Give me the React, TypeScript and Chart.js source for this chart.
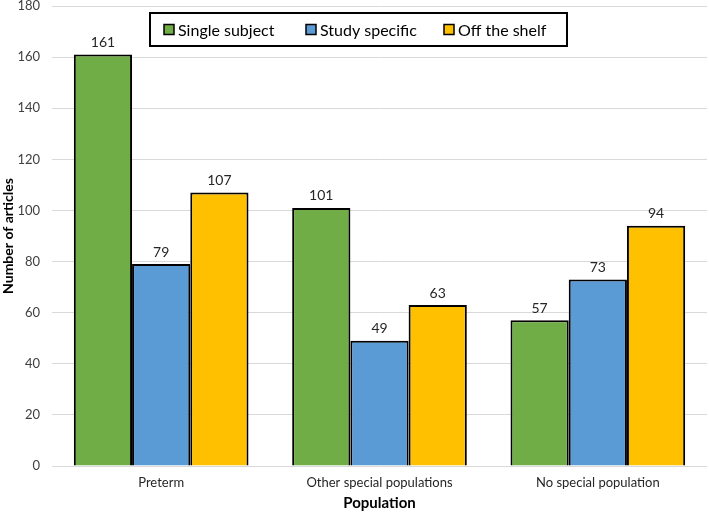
import React, { useEffect, useRef } from "react";
import { Chart, registerables } from "chart.js";

Chart.register(...registerables);

const categories = ["Preterm", "Other special populations", "No special population"];
const seriesNames = ["Single subject", "Study specific", "Off the shelf"];
const singleSubject = [161, 101, 57];
const studySpecific = [79, 49, 73];
const offTheShelf = [107, 63, 94];
const colors = ["#70AD47", "#5B9BD5", "#FFC000"];
const yTicks = [0, 20, 40, 60, 80, 100, 120, 140, 160, 180];

const FONT = "Lato, 'Open Sans', sans-serif";

const valueLabels = {
  id: "valueLabels",
  afterDatasetsDraw(chart: any) {
    const ctx = chart.ctx;
    ctx.save();
    ctx.font = `14px ${FONT}`;
    ctx.fillStyle = "#262626";
    ctx.textAlign = "center";
    ctx.textBaseline = "bottom";
    chart.data.datasets.forEach((ds: any, i: number) => {
      const meta = chart.getDatasetMeta(i);
      meta.data.forEach((bar: any, j: number) => {
        ctx.fillText(String(ds.data[j]), bar.x, bar.y - 5);
      });
    });
    ctx.restore();
  },
};

const boxLegend = {
  id: "boxLegend",
  afterDraw(chart: any) {
    const ctx = chart.ctx;
    ctx.save();
    const x0 = 150, y0 = 13, w = 417, h = 33;
    ctx.fillStyle = "#ffffff";
    ctx.fillRect(x0, y0, w, h);
    ctx.lineWidth = 2;
    ctx.strokeStyle = "#000000";
    ctx.strokeRect(x0, y0, w, h);
    const sx = [164, 306, 444];
    ctx.font = `16px ${FONT}`;
    ctx.textBaseline = "middle";
    ctx.textAlign = "left";
    seriesNames.forEach((name, i) => {
      const cy = y0 + h / 2;
      ctx.fillStyle = colors[i];
      ctx.fillRect(sx[i], cy - 5, 10, 10);
      ctx.lineWidth = 1.5;
      ctx.strokeStyle = "#000";
      ctx.strokeRect(sx[i], cy - 5, 10, 10);
      ctx.fillStyle = "#000";
      ctx.fillText(name, sx[i] + 14, cy + 1);
    });
    ctx.restore();
  },
};

export default function App() {
  const ref = useRef<HTMLCanvasElement>(null);
  useEffect(() => {
    if (!ref.current) return;
    const data = [singleSubject, studySpecific, offTheShelf];
    const chart = new Chart(ref.current, {
      type: "bar",
      data: {
        labels: categories,
        datasets: seriesNames.map((n, i) => ({
          label: n,
          data: data[i],
          backgroundColor: colors[i],
          borderColor: "#000000",
          borderWidth: 2,
          categoryPercentage: 0.8,
          barPercentage: 1.0,
        })),
      },
      options: {
        responsive: false,
        animation: false,
        layout: { padding: { top: 6, right: 2, left: 0, bottom: 0 } },
        plugins: { legend: { display: false }, tooltip: { enabled: false } },
        scales: {
          x: {
            grid: { display: false, drawTicks: false },
            border: { display: false },
            ticks: { font: { family: FONT, size: 13 }, color: "#262626", padding: 9, maxRotation: 0 },
            title: {
              display: true,
              text: "Population",
              font: { family: FONT, size: 15, weight: "bold" },
              color: "#000",
              padding: { top: 2, bottom: 0 },
            },
            afterFit(scale: any) { scale.height = 46; },
          },
          y: {
            min: 0,
            max: 180,
            afterBuildTicks(scale: any) { scale.ticks = yTicks.map((v) => ({ value: v })); },
            grid: { color: "#D9D9D9", drawTicks: false, lineWidth: 1 },
            border: { display: false },
            ticks: { font: { family: FONT, size: 13 }, color: "#404040", padding: 12 },
            title: {
              display: true,
              text: "Number of articles",
              font: { family: FONT, size: 14, weight: "bold" },
              color: "#000",
              padding: { top: 0, bottom: 0 },
            },
            afterFit(scale: any) {
              scale.width = 52;
              scale.paddingTop = 0;
              scale.paddingBottom = 0;
            },
          },
        },
      },
      plugins: [valueLabels, boxLegend],
    });
    return () => chart.destroy();
  }, []);
  return (
    <div style={{ position: "fixed", left: 0, top: 0, width: 709, height: 512, background: "#fff" }}>
      <canvas ref={ref} width={709} height={512} />
    </div>
  );
}
